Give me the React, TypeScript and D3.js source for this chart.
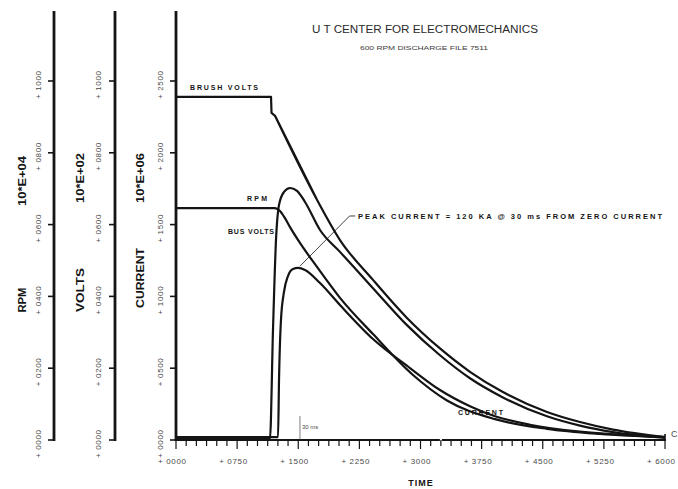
import React from "react";
import * as d3 from "d3";

// ---- data (axis units as printed on the chart) ----
const brushTime = [0, 1166, 1172, 1215, 1730, 2012, 2417, 2834, 3239, 3607, 4000, 4552, 4957, 5362, 6000];
const brushVolts = [956, 956, 911, 903, 669, 557, 446, 340, 255, 190, 135, 78, 50, 29, 8];
const brushLinearCount = 5; // plateau, drop and straight descent are ruled segments

const busTime = [0, 1153, 1190, 1227, 1264, 1325, 1399, 1485, 1583, 1767, 2012, 2417, 2834, 3239, 3607, 4000, 4552, 4957, 5362, 6000];
const busVolts = [3, 3, 306, 557, 655, 691, 702, 694, 663, 585, 524, 423, 320, 236, 172, 120, 66, 40, 22, 6];

const rpmTime = [0, 1215, 1276, 1337, 1399, 1521, 1730, 2012, 2417, 2908, 3325, 3914, 4552, 5202, 6000];
const rpmValues = [646, 646, 638, 618, 593, 549, 482, 396, 295, 181, 110, 58, 31, 17, 8];

const currentTime = [0, 1252, 1264, 1288, 1325, 1374, 1436, 1497, 1583, 1767, 2012, 2417, 2871, 3239, 3607, 3914, 4344, 4957, 5448, 6000];
const currentValues = [20, 20, 418, 836, 1031, 1142, 1191, 1198, 1184, 1093, 940, 703, 501, 348, 235, 165, 106, 58, 36, 21];

const rpmTicks = [0, 200, 400, 600, 800, 1000];
const voltTicks = [0, 200, 400, 600, 800, 1000];
const currentTicks = [0, 500, 1000, 1500, 2000, 2500];
const timeTicks = [0, 750, 1500, 2250, 3000, 3750, 4500, 5250, 6000];
const peakMarkerTime = 1521;

const title = "U T CENTER FOR ELECTROMECHANICS";
const subtitle = "600 RPM DISCHARGE FILE 7511";
const annotation = "PEAK CURRENT = 120 KA @ 30 ms FROM ZERO CURRENT";

export default function App() {
  const W = 678, H = 489;
  const x = d3.scaleLinear().domain([0, 6000]).range([176, 665]);
  const yRpm = d3.scaleLinear().domain([0, 1000]).range([440, 81]);
  const yVolt = d3.scaleLinear().domain([0, 1000]).range([440, 81]);
  const yCur = d3.scaleLinear().domain([0, 2500]).range([440, 81]);

  const mk = (ts: number[], vs: number[], y: d3.ScaleLinear<number, number>, curve: d3.CurveFactory = d3.curveMonotoneX) =>
    d3.line<number>().x((_, i) => x(ts[i])).y((v) => y(v)).curve(curve)(vs) || "";

  const brushPath =
    mk(brushTime.slice(0, brushLinearCount), brushVolts.slice(0, brushLinearCount), yVolt, d3.curveLinear) +
    mk(brushTime.slice(brushLinearCount - 2), brushVolts.slice(brushLinearCount - 2), yVolt, d3.curveMonotoneX).replace(/^M[^LC]*/, "M" + x(brushTime[brushLinearCount - 2]) + "," + yVolt(brushVolts[brushLinearCount - 2]));

  const ink = "#141414";
  const grey = "#4a4a4a";
  const font = "'Liberation Sans', Arial, sans-serif";

  const yAxes = [
    { ax: 54, scale: yRpm, ticks: rpmTicks, lx: 38, title1: "10*E+04", t1y: 181, t1x: 22, title2: "RPM", t2y: 300, t2x: 22, t2len: 25 },
    { ax: 115, scale: yVolt, ticks: voltTicks, lx: 98, title1: "10*E+02", t1y: 178, t1x: 80, title2: "VOLTS", t2y: 290, t2x: 80, t2len: 44 },
    { ax: 176, scale: yCur, ticks: currentTicks, lx: 160, title1: "10*E+06", t1y: 178, t1x: 140, title2: "CURRENT", t2y: 278, t2x: 140, t2len: 60 },
  ];

  const minorTicks = d3.range(0, 6001, 125);
  const topVal = (s: d3.ScaleLinear<number, number>) => s.invert(11);

  return (
    <svg width={W} height={H} style={{ position: "absolute", left: 0, top: 0, background: "#fff" }} fontFamily={font}>
      <rect x={0} y={0} width={W} height={H} fill="#fff" />
      {/* vertical axes */}
      {yAxes.map((a, k) => (
        <g key={k}>
          <line x1={a.ax} x2={a.ax} y1={a.scale(0) + 1} y2={a.scale(topVal(a.scale))} stroke={ink} strokeWidth={2.8} />
          {a.ticks.map((t) => (
            <g key={t}>
              <line x1={a.ax - 6} x2={a.ax} y1={a.scale(t)} y2={a.scale(t)} stroke={ink} strokeWidth={1.6} />
              <text
                transform={`translate(${a.lx},${a.scale(t) + 4}) rotate(-90)`}
                textAnchor="middle"
                dominantBaseline="central"
                fontSize={8}
                fill={grey}
                textLength={28}
                lengthAdjust="spacing"
              >
                {"+ " + d3.format("04d")(t)}
              </text>
            </g>
          ))}
          <text transform={`translate(${a.t1x},${a.t1y}) rotate(-90)`} textAnchor="middle" dominantBaseline="central" fontSize={11} fontWeight="bold" fill={ink} textLength={50} lengthAdjust="spacingAndGlyphs">
            {a.title1}
          </text>
          <text transform={`translate(${a.t2x},${a.t2y}) rotate(-90)`} textAnchor="middle" dominantBaseline="central" fontSize={11} fontWeight="bold" fill={ink} textLength={a.t2len} lengthAdjust="spacingAndGlyphs">
            {a.title2}
          </text>
        </g>
      ))}

      {/* time axis */}
      <line x1={x(0) - 1} x2={x(3250) - 1} y1={440} y2={440} stroke={ink} strokeWidth={2.2} />
      <line x1={x(3250) + 1} x2={x(6000) + 1} y1={440} y2={440} stroke={ink} strokeWidth={2.2} />
      {minorTicks.map((t) => (
        <line key={t} x1={x(t)} x2={x(t)} y1={440} y2={timeTicks.includes(t) ? 449 : 446} stroke={ink} strokeWidth={1.2} />
      ))}
      <line x1={x(6000)} x2={x(6000)} y1={434} y2={440} stroke={ink} strokeWidth={1.6} />
      {timeTicks.map((t) => (
        <text key={t} x={x(t) - 4} y={464} textAnchor="middle" fontSize={8} fill={grey} textLength={28} lengthAdjust="spacing">
          {"+ " + d3.format("04d")(t)}
        </text>
      ))}
      <text x={421} y={486} textAnchor="middle" fontSize={9} fontWeight="bold" fill={ink} letterSpacing={1}>TIME</text>

      {/* series */}
      <path d={mk(currentTime, currentValues, yCur)} fill="none" stroke={ink} strokeWidth={2.2} />
      <path d={mk(busTime, busVolts, yVolt)} fill="none" stroke={ink} strokeWidth={2.2} />
      <path d={mk(rpmTime, rpmValues, yRpm)} fill="none" stroke={ink} strokeWidth={2.2} />
      <path d={brushPath} fill="none" stroke={ink} strokeWidth={2.2} strokeLinejoin="round" />

      {/* labels in plot */}
      <text x={190} y={90} fontSize={7} fontWeight="bold" fill={ink} textLength={68} lengthAdjust="spacing">BRUSH VOLTS</text>
      <text x={247} y={201} fontSize={7} fontWeight="bold" fill={ink} textLength={20} lengthAdjust="spacing">RPM</text>
      <text x={228} y={234} fontSize={7} fontWeight="bold" fill={ink} textLength={46} lengthAdjust="spacing">BUS VOLTS</text>
      <text x={458} y={415} fontSize={7} fontWeight="bold" fill={ink} textLength={45} lengthAdjust="spacing">CURRENT</text>

      {/* peak annotation */}
      <line x1={x(1520)} y1={yCur(1210)} x2={x(2130)} y2={yCur(1560)} stroke={ink} strokeWidth={0.8} />
      <line x1={x(2130)} y1={yCur(1560)} x2={x(2200)} y2={yCur(1560)} stroke={ink} strokeWidth={0.8} />
      <text x={358} y={219} fontSize={7.5} fontWeight="bold" fill={ink} textLength={304} lengthAdjust="spacing">{annotation}</text>

      {/* 30 ms marker */}
      <line x1={x(peakMarkerTime)} x2={x(peakMarkerTime)} y1={416} y2={440} stroke={grey} strokeWidth={0.7} />
      <text x={x(peakMarkerTime) + 2} y={429} fontSize={6} fill={grey}>30 ms</text>

      {/* title */}
      <text x={425} y={33} textAnchor="middle" fontSize={10} fill="#2a2a2a" textLength={226} lengthAdjust="spacingAndGlyphs">{title}</text>
      <text x={424} y={50} textAnchor="middle" fontSize={6} fill="#3a3a3a" textLength={128} lengthAdjust="spacingAndGlyphs">{subtitle}</text>

      <text x={671} y={437} fontSize={9} fill={grey}>C</text>
    </svg>
  );
}
